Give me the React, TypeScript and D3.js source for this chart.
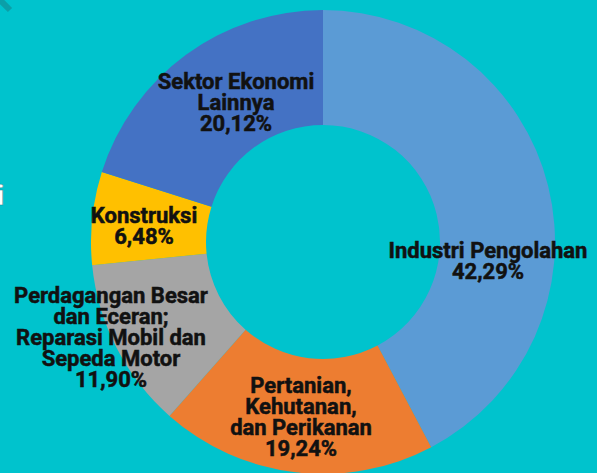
import { arc, pie } from "d3";

const categories = [
  "Industri Pengolahan",
  "Pertanian, Kehutanan, dan Perikanan",
  "Perdagangan Besar dan Eceran; Reparasi Mobil dan Sepeda Motor",
  "Konstruksi",
  "Sektor Ekonomi Lainnya",
];
const shares = [42.29, 19.24, 11.9, 6.48, 20.12];
const shareLabels = ["42,29%", "19,24%", "11,90%", "6,48%", "20,12%"];
const labelLines = [
  ["Industri Pengolahan"],
  ["Pertanian,", "Kehutanan,", "dan Perikanan"],
  ["Perdagangan Besar", "dan Eceran;", "Reparasi Mobil dan", "Sepeda Motor"],
  ["Konstruksi"],
  ["Sektor Ekonomi", "Lainnya"],
];
const colors = ["#5b9bd5", "#ed7d31", "#a5a5a5", "#ffc000", "#4472c4"];

const width = 597;
const height = 473;
const cx = 323;
const cy = 242;
const outerR = 232;
const innerR = 117;
const lineH = 21;

// first-line baseline of each label block
const labelAnchor = [
  [488, 258],
  [301, 393],
  [111, 303],
  [144, 223],
  [236, 89],
];

export default function App() {
  const data = categories.map((c, i) => ({ c, v: shares[i], i }));
  const slices = pie<(typeof data)[number]>()
    .value((d) => d.v)
    .sort(null)(data);
  const arcGen = arc<any>().innerRadius(innerR).outerRadius(outerR);

  return (
    <svg
      width={width}
      height={height}
      style={{ position: "absolute", left: 0, top: 0, display: "block" }}
    >
      <rect width={width} height={height} fill="#00c3cd" />
      <line x1={-5} y1={-5} x2={10} y2={10} stroke="#0b9fa8" strokeWidth={6} />
      <text
        x={-3}
        y={205}
        fill="#ffffff"
        stroke="#0b8f98"
        strokeWidth={0.6}
        fontFamily="Roboto, sans-serif"
        fontWeight={700}
        fontSize={28}
      >
        i
      </text>
      <g transform={`translate(${cx}, ${cy})`}>
        {slices.map((s) => (
          <path key={s.data.c} d={arcGen(s) || ""} fill={colors[s.data.i]} />
        ))}
      </g>
      {labelLines.map((lines, i) => (
        <text
          key={categories[i]}
          textAnchor="middle"
          fontFamily="Roboto, sans-serif"
          fontWeight={700}
          fontSize={22}
          fill="#111111"
          stroke="#111111"
          strokeWidth={0.5}
        >
          {[...lines, shareLabels[i]].map((t, j) => (
            <tspan key={j} x={labelAnchor[i][0]} y={labelAnchor[i][1] + j * lineH}>
              {t}
            </tspan>
          ))}
        </text>
      ))}
    </svg>
  );
}
